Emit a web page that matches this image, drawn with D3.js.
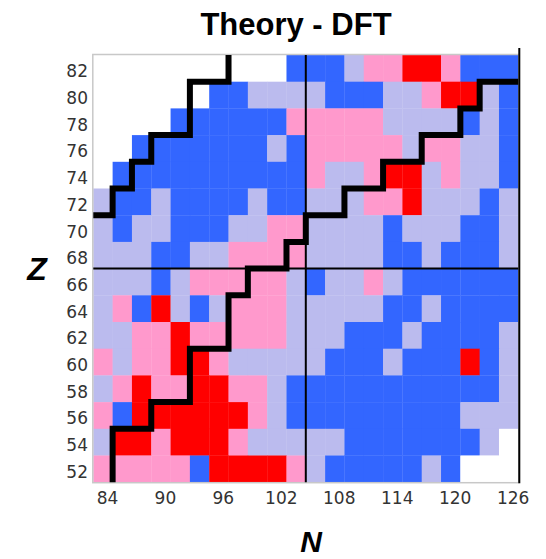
<!DOCTYPE html>
<html>
<head>
<meta charset="utf-8">
<script src="https://cdn.jsdelivr.net/npm/d3@7"></script>
<style>
  body { margin: 0; background: #fff; }
  svg text { font-family: "DejaVu Sans", sans-serif; }
</style>
</head>
<body>
<svg width="546" height="559"></svg>
<script>
// neutron numbers (columns) and proton numbers (rows, top to bottom)
var nValues = d3.range(84, 127, 2);
var zValues = d3.range(82, 51, -2);
var nTicks = [84, 90, 96, 102, 108, 114, 120, 126];

// one string per Z row, one letter per N column
// W = none, B = blue, L = light blue, P = pink, R = red
var cellRows = [
  "WWWWWWWWWWBBBLPPRRPBBB", // 82
  "WWWWWWBBLLLLBBBLLPRRLB", // 80
  "WWWWBBBBBBPPPPPLLLLBLB", // 78
  "WWBBBBBBBLBPPPPPLPPLLB", // 76
  "WBBBBBBBBBBPLLPRRLPLLB", // 74
  "LBBLBBBBLBBLLLPPRLLLBL", // 72
  "LBLLBBBLLPPLLLLBLLLBBL", // 70
  "LLLBBLLPPPPLLLLBBLBBBL", // 68
  "LLLBLPPPPPLBLLPLBBBBBB", // 66
  "LPBRLBLPPPLLLLLBBLBBBB", // 64
  "LLPPRPPPPPLLLBBBLBBBBL", // 62
  "PLPPRRPLLLLLBBBLBBBRBL", // 60
  "LPRPPRRPPLBBBBBBBBBBBL", // 58
  "PBRRRRRRPLBBBBBBBBBLLL", // 56
  "LRRPRRRPLLLLLBBBBBBBLW", // 54
  "PPPPPBRRRRPLBBBBBLBWWW"  // 52
];

var colors = { W: "#ffffff", B: "#3366ff", L: "#bbbbee", P: "#ff99cc", R: "#ff0000" };

// staircase boundaries, as [N, Z] corner points
var upperStairs = [[83,71],[85,71],[85,73],[87,73],[87,75],[89,75],[89,77],[93,77],[93,81],[97,81],[97,83]];
var lowerStairs = [[85,51],[85,55],[89,55],[89,57],[93,57],[93,61],[97,61],[97,65],[99,65],[99,67],
  [103,67],[103,69],[105,69],[105,71],[109,71],[109,73],[113,73],[113,75],[117,75],[117,77],
  [121,77],[121,79],[123,79],[123,81],[127,81]];
var midN = 105, midZ = 67;

var svg = d3.select("svg");

var x = d3.scaleLinear().domain([83, 127]).range([93.3, 518.3]);
var y = d3.scaleLinear().domain([51, 83]).range([482.2, 55]);

// cells
var cells = [];
cellRows.forEach(function(row, i) {
  row.split("").forEach(function(c, j) {
    cells.push({ n: nValues[j], z: zValues[i], c: c });
  });
});

svg.append("g").selectAll("rect")
  .data(cells)
  .enter()
  .append("rect")
  .attr("x", d => x(d.n - 1))
  .attr("y", d => y(d.z + 1))
  .attr("width", d => x(d.n + 1) - x(d.n - 1) + 0.3)
  .attr("height", d => y(d.z - 1) - y(d.z + 1) + 0.3)
  .attr("fill", d => colors[d.c]);

// frame
svg.append("rect")
  .attr("x", x(83) - 0.5)
  .attr("y", y(83) - 0.5)
  .attr("width", x(127) - x(83) + 1)
  .attr("height", y(51) - y(83) + 1)
  .attr("fill", "none")
  .attr("stroke", "#c8c8c8")
  .attr("stroke-width", 1.5);

svg.append("line")
  .attr("x1", x(127) + 1).attr("x2", x(127) + 1)
  .attr("y1", 48).attr("y2", y(51) + 1)
  .attr("stroke", "#000").attr("stroke-width", 2);

// mid-shell lines
svg.append("line")
  .attr("x1", x(midN)).attr("x2", x(midN))
  .attr("y1", y(83)).attr("y2", y(51))
  .attr("stroke", "#000").attr("stroke-width", 2);
svg.append("line")
  .attr("x1", x(83)).attr("x2", x(127))
  .attr("y1", y(midZ)).attr("y2", y(midZ))
  .attr("stroke", "#000").attr("stroke-width", 2);

// staircases
var line = d3.line()
  .x(d => x(d[0]))
  .y(d => y(d[1]));

[upperStairs, lowerStairs].forEach(function(pts) {
  svg.append("path")
    .datum(pts)
    .attr("d", line)
    .attr("fill", "none")
    .attr("stroke", "#000")
    .attr("stroke-width", 6)
    .attr("stroke-linejoin", "miter")
    .attr("stroke-linecap", "butt");
});

// axes
var yAxis = d3.axisLeft(y).tickValues(zValues).tickSize(0).tickPadding(0);
var gy = svg.append("g")
  .attr("transform", "translate(88,3)")
  .call(yAxis);
gy.select(".domain").remove();
gy.selectAll("text")
  .style("font-family", "DejaVu Sans, sans-serif")
  .style("font-size", "17px")
  .attr("fill", "#333");

var xAxis = d3.axisBottom(x).tickValues(nTicks).tickSize(0).tickPadding(0);
var gx = svg.append("g")
  .attr("transform", "translate(4,492)")
  .call(xAxis);
gx.select(".domain").remove();
gx.selectAll("text")
  .style("font-family", "DejaVu Sans, sans-serif")
  .style("font-size", "17px")
  .attr("fill", "#333");

// title and axis names
svg.append("text")
  .attr("x", 296)
  .attr("y", 35)
  .attr("text-anchor", "middle")
  .style("font-family", "Liberation Sans, Arial, sans-serif")
  .style("font-weight", "bold")
  .style("font-size", "31px")
  .text("Theory - DFT");

svg.append("text")
  .attr("x", 37)
  .attr("y", 280)
  .attr("text-anchor", "middle")
  .style("font-family", "Liberation Sans, Arial, sans-serif")
  .style("font-weight", "bold")
  .style("font-style", "italic")
  .style("font-size", "32px")
  .text("Z");

svg.append("text")
  .attr("x", 311)
  .attr("y", 552)
  .attr("text-anchor", "middle")
  .style("font-family", "Liberation Sans, Arial, sans-serif")
  .style("font-weight", "bold")
  .style("font-style", "italic")
  .style("font-size", "30px")
  .text("N");
</script>
</body>
</html>
